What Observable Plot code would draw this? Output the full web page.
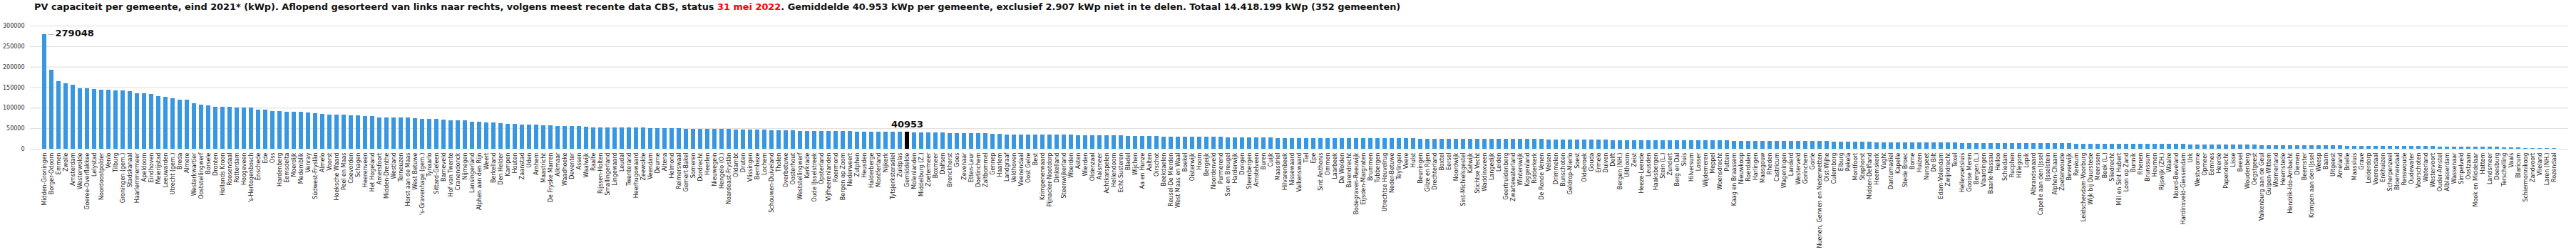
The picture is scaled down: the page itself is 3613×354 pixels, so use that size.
<!DOCTYPE html>
<html>
<head>
<meta charset="utf-8">
<script src="https://cdn.jsdelivr.net/npm/d3@7"></script>
<script src="https://cdn.jsdelivr.net/npm/@observablehq/plot@0.6"></script>
<style>
  html, body { margin: 0; padding: 0; background: #fff; }
  #wrap { position: relative; width: 3613px; height: 354px; }
  #title { position: absolute; left: 48px; top: 2px; font-family: "DejaVu Sans", sans-serif; font-weight: bold; font-size: 12.88px; color: #111; white-space: nowrap; }
  #title .red { color: #ff0000; }
  #chart { position: absolute; left: 0; top: 0; }
  #chart svg rect { shape-rendering: crispEdges; }
</style>
</head>
<body>
<div id="wrap">
  <div id="chart"></div>
  <div id="title">PV capaciteit per gemeente, eind 2021* (kWp). Aflopend gesorteerd van links naar rechts, volgens meest recente data CBS, status <span class="red">31 mei 2022</span>. Gemiddelde 40.953 kWp per gemeente, exclusief 2.907 kWp niet in te delen. Totaal 14.418.199 kWp (352 gemeenten)</div>
</div>
<script>
const categories = [
"Midden-Groningen","Borger-Odoorn","Emmen","Zwolle","Amsterdam","Westerwolde","Goeree-Overflakkee","Lelystad","Noordoostpolder","Venlo",
"Tilburg","Groningen (gem.)","Stadskanaal","Haarlemmermeer","Apeldoorn","Eindhoven","Meierijstad","Leeuwarden","Utrecht (gem.)","Breda",
"Almere","Westerkwartier","Ooststellingwerf","Borsele","Dronten","Hollands Kroon","Roosendaal","Rotterdam","Hoogeveen","'s-Hertogenbosch",
"Enschede","Ede","Oss","Hardenberg","Eemsdelta","Moerdijk","Medemblik","Venray","Súdwest-Fryslân","Almelo",
"Voorst","Hoeksche Waard","Peel en Maas","Coevorden","Schagen","Heerenveen","Het Hogeland","Amersfoort","Midden-Drenthe","Westland",
"Terneuzen","Horst aan de Maas","West Betuwe","'s-Gravenhage (gem.)","Tynaarlo","Sittard-Geleen","Barneveld","Hof van Twente","Cranendonck","Nijmegen",
"Lansingerland","Alphen aan den Rijn","Weert","Berkelland","Den Helder","Kampen","Houten","Zaanstad","Uden","Arnhem",
"Maastricht","De Fryske Marren","Alkmaar","Waadhoeke","Deventer","Assen","Waalwijk","Raalte","Rijssen-Holten","Smallingerland",
"Lingewaard","Leudal","Twenterand","Heerhugowaard","Zeewolde","Veendam","Deurne","Altena","Helmond","Reimerswaal",
"Gemert-Bakel","Someren","Dordrecht","Heerlen","Nieuwegein","Hengelo (O.)","Noardeast-Fryslân","Oldambt","Druten","Vlissingen",
"Bernheze","Lochem","Schouwen-Duiveland","Tholen","Overbetuwe","Oosterhout","Weststellingwerf","Kerkrade","Oude IJsselstreek","Opsterland",
"Vijfheerenlanden","Roermond","Bergen op Zoom","Nederweert","Zutphen","Heusden","Halderberge","Montferland","Nijkerk","Tytsjerksteradiel",
"Zuidplas","Gemiddelde","Molenlanden","Middelburg (Z.)","Zoetermeer","Boxmeer","Dalfsen","Bronckhorst","Goes","Zevenaar",
"Etten-Leur","Doetinchem","Zaltbommel","Gennep","Haarlem","Landgraaf","Veldhoven","Veenendaal","Oost Gelre","Best",
"Krimpenerwaard","Pijnacker-Nootdorp","Dinkelland","Steenwijkerland","Woerden","Asten","Wierden","Oldenzaal","Aalsmeer","Achtkarspelen",
"Hellendoorn","Echt-Susteren","Bladel","Wijchen","Aa en Hunze","Aalten","Oirschot","Beekdaelen","Reusel-De Mierden","West Maas en Waal",
"Boekel","Oisterwijk","Hoorn","Bergeijk","Noordenveld","Purmerend","Son en Breugel","Harderwijk","Dongen","Steenbergen",
"Amstelveen","Buren","Cuijk","Maasdriel","Hilvarenbeek","Nissewaard","Valkenswaard","Tiel","Epe","Sint Anthonis",
"Ommen","Laarbeek","De Wolden","Barendrecht","Bodegraven-Reeuwijk","Eijsden-Margraten","Brummen","Tubbergen","Utrechtse Heuvelrug","Neder-Betuwe",
"Teylingen","Veere","Hulst","Beuningen","Gilze en Rijen","Drechterland","Boxtel","Eersel","Noordwijk","Sint-Michielsgestel",
"Katwijk","Stichtse Vecht","Waddinxveen","Langedijk","Leiden","Geertruidenberg","Zwartewaterland","Winterswijk","Koggenland","Ridderkerk",
"De Ronde Venen","Velsen","Drimmelen","Bunschoten","Geldrop-Mierlo","Soest","Oldebroek","Gouda","Ermelo","Duiven",
"Delft","Bergen (NH.)","Uithoorn","Zeist","Heeze-Leende","Leusden","Haaksbergen","Stein (L.)","Zundert","Berg en Dal",
"Sluis","Hilversum","Losser","Wijdemeren","Meppel","Woensdrecht","Putten","Kaag en Braassem","Nieuwkoop","Roerdalen",
"Harlingen","Maasgouw","Rheden","Castricum","Wageningen","Landerd","Westerveld","Gorinchem","Goirle","Nuenen, Gerwen en Nederwetten",
"Olst-Wijhe","Culemborg","Elburg","Pekela","Montfoort","Staphorst","Midden-Delfland","Heemskerk","Vught","Dantumadiel",
"Kapelle","Stede Broec","Borne","Huizen","Nunspeet","De Bilt","Edam-Volendam","Zwijndrecht","Texel","Hellevoetsluis",
"Gooise Meren","Bergen (L.)","Vlaardingen","Baarle-Nassau","Heiloo","Schiedam","Rucphen","Hillegom","Lopik","Albrandswaard",
"Capelle aan den IJssel","IJsselstein","Alphen-Chaam","Zoeterwoude","Beverwijk","Renkum","Leidschendam-Voorburg","Wijk bij Duurstede","Meerssen","Beek (L.)",
"Sliedrecht","Mill en Sint Hubert","Loon op Zand","Bunnik","Rhenen","Brunssum","Heumen","Rijswijk (ZH.)","Waalre","Noord-Beveland",
"Hardinxveld-Giessendam","Urk","Westvoorne","Opmeer","Eemnes","Heerde","Papendrecht","Lisse","Beesel","Woudenberg",
"Oegstgeest","Valkenburg aan de Geul","Gulpen-Wittem","Wormerland","Heemstede","Hendrik-Ido-Ambacht","Diemen","Beemster","Krimpen aan den IJssel","Weesp",
"Baarn","Uitgeest","Ameland","Brielle","Maassluis","Grave","Leiderdorp","Voerendaal","Enkhuizen","Scherpenzeel",
"Bloemendaal","Renswoude","Oudewater","Voorschoten","Waterland","Westervoort","Ouder-Amstel","Alblasserdam","Wassenaar","Simpelveld",
"Oostzaan","Mook en Middelaar","Hattem","Landsmeer","Doesburg","Terschelling","Vaals","Blaricum","Schiermonnikoog","Zandvoort",
"Vlieland","Laren (NH.)","Rozendaal"
];

const values = [
279048,192500,164700,159500,156000,147400,147400,145700,143900,143900,
142200,142200,140500,135300,135300,133500,128300,126600,123100,119600,
119600,111000,107500,105800,102300,102300,102300,100600,100600,100600,
95400,95400,91900,91900,90200,90200,90200,88400,86700,85000,
83200,83200,83200,81500,81500,79800,79800,76300,76300,76300,
76300,76300,74600,72800,72800,72800,71100,69400,69400,69400,
65900,65900,64200,64200,62400,60700,60700,59000,59000,59000,
57200,57200,55500,55500,55500,55500,53800,52000,52000,52000,
52000,52000,52000,52000,52000,50300,50300,50300,50300,50300,
48600,48600,48600,48600,48600,48600,48600,46800,46800,46800,
46800,46800,45100,45100,45100,45100,43400,43400,43400,43400,
43400,43400,43400,43400,41600,41600,41600,41600,41100,41050,
41000,40953,40200,40100,40000,39900,39800,38100,38100,38100,
38100,38100,38100,36400,36400,34700,34700,34700,34700,34700,
34700,34700,34700,34700,34700,32900,32900,32900,32900,32900,
32900,32900,31200,31200,31200,31200,31200,29500,29500,29500,
29500,29500,29500,29500,29500,29500,27700,27700,27700,27700,
27700,27700,27700,26000,26000,26000,26000,26000,26000,26000,
26000,26000,26000,26000,26000,26000,26000,26000,26000,26000,
26000,26000,26000,24300,24300,24300,24300,24300,24300,24300,
24300,24300,24300,24300,24300,24300,24300,24300,24300,24300,
24300,22500,22500,22500,22500,22500,22500,22500,22500,22500,
20800,20800,20800,20800,20800,20800,20800,20800,20800,20800,
20800,20800,20800,20800,20800,20800,20800,19100,19100,19100,
19100,19100,19100,19100,19100,19100,19100,19100,19100,19100,
19100,17300,17300,17300,17300,17300,17300,15600,15600,15600,
15600,15600,15600,15600,15600,15600,15600,15600,15600,13900,
13900,13900,13900,13900,13900,13900,13900,13900,13900,13900,
13900,13900,13900,13900,13900,12100,12100,12100,12100,12100,
12100,12100,12100,12100,12100,12100,12100,12100,12100,12100,
12100,10400,10400,10400,10400,10400,10400,10400,10400,10400,
10400,8700,8700,8700,8700,8700,8700,8700,8700,8700,
8700,8700,8700,6900,6900,6900,6900,6900,6900,6900,
6900,6900,6900,6900,6900,6900,5200,5200,5200,5200,
5200,5200,5200,5200,5200,3500,3500,3500,1700,1700,
1700,1700,1700
];

const yTicks = [0, 50000, 100000, 150000, 200000, 250000, 300000];
const highlight = "Gemiddelde";
const maxName = "Midden-Groningen";

const data = categories.map((name, i) => ({name, value: values[i]}));

const plot = Plot.plot({
  width: 3613,
  height: 354,
  marginTop: 36,
  marginBottom: 145,
  marginLeft: 42,
  marginRight: 11,
  style: {fontFamily: "DejaVu Sans, sans-serif", fontSize: "8px", color: "#333", background: "#fff"},
  x: {domain: categories, padding: 0.37, label: null},
  y: {domain: [0, 300000], label: null},
  marks: [
    Plot.gridY(yTicks, {stroke: "#dddddd", strokeOpacity: 1}),
    Plot.axisY({ticks: yTicks, tickSize: 0, tickPadding: 8, label: null, tickFormat: d3.format("d"), fontSize: 8, fill: "#333"}),
    Plot.axisX({tickSize: 0, tickPadding: 5, tickRotate: -90, label: null, fontSize: 8, fill: "#222"}),
    Plot.barY(data, {x: "name", y: "value", fill: d => d.name === highlight ? "#000000" : "#3897e0"}),
    Plot.text(data.filter(d => d.name === maxName), {x: "name", y: "value", text: () => "—", fill: "#aaaaaa", fontSize: 10, dx: 9, dy: -1, textAnchor: "middle"}),
    Plot.text(data.filter(d => d.name === maxName), {x: "name", y: "value", text: d => String(d.value), fontSize: 13, fontWeight: "bold", fill: "#111", textAnchor: "start", dx: 15, dy: -2}),
    Plot.text(data.filter(d => d.name === highlight), {x: "name", y: "value", text: d => String(d.value), fontSize: 13, fontWeight: "bold", fill: "#111", textAnchor: "middle", lineAnchor: "bottom", dy: -7})
  ]
});
document.getElementById("chart").appendChild(plot);
</script>
</body>
</html>
